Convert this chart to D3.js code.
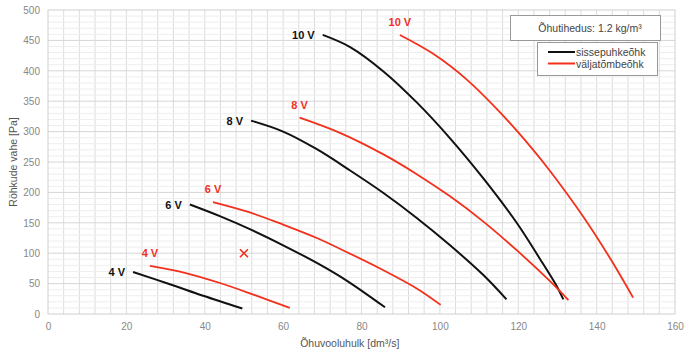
<!DOCTYPE html>
<html>
<head>
<meta charset="utf-8">
<script src="https://cdn.jsdelivr.net/npm/d3@7"></script>
<style>
  body { margin: 0; background: #fff; }
  svg { display: block; font-family: "Liberation Sans", Arial, sans-serif; }
</style>
</head>
<body>
<div id="chart"></div>
<script>
// fan curves, [airflow dm3/s, pressure Pa]
const supply4 = [[21.7, 69], [31.1, 49], [39.6, 30], [49.6, 9]];
const supply6 = [[36.2, 180], [44, 160.5], [51.5, 139.5], [60, 113], [68.6, 84], [76.2, 55], [86, 11]];
const supply8 = [[51.8, 318], [60, 300], [68.6, 271], [77.1, 236], [85.6, 199], [94.1, 158], [102.6, 113], [111.1, 64], [117, 24]];
const supply10 = [[70.1, 459], [77.1, 439], [85.6, 399], [94.1, 348], [102.6, 289], [111.1, 223], [119.6, 150], [125.5, 91], [129.8, 46], [131.5, 24]];

const exhaust4 = [[26, 79], [35.4, 67], [43.9, 51], [52.4, 32], [61.7, 10]];
const exhaust6 = [[42.1, 184], [51.5, 167], [60, 147], [68.6, 125], [76.2, 102], [85.6, 72], [94.1, 42], [100.2, 15]];
const exhaust8 = [[64.2, 323], [74.5, 298], [85.6, 262.5], [94.1, 230], [102.6, 193.5], [111.1, 152], [119.6, 105], [128.1, 54], [132.8, 23]];
const exhaust10 = [[89.8, 459], [98.3, 428], [106.8, 386], [115.3, 332], [123.8, 270], [128.5, 232], [136.6, 160], [143.4, 92], [149.3, 27]];

const voltages = ["4 V", "6 V", "8 V", "10 V"];
const supplyCurves = [supply4, supply6, supply8, supply10];
const exhaustCurves = [exhaust4, exhaust6, exhaust8, exhaust10];

const xTicks = [0, 20, 40, 60, 80, 100, 120, 140, 160];
const yTicks = [0, 50, 100, 150, 200, 250, 300, 350, 400, 450, 500];
const marker = [50, 100];

const legendNames = ["sissepuhkeõhk", "väljatõmbeõhk"];
const densityText = "Õhutihedus:  1.2 kg/m³";
const xTitle = "Õhuvooluhulk [dm³/s]";
const yTitle = "Röhkude vahe [Pa]";

const width = 685, height = 359;
const margin = {top: 10, right: 10, bottom: 45, left: 48};
const black = "#111", red = "#f2301c";

const svg = d3.select("#chart").append("svg")
    .attr("width", width)
    .attr("height", height);

const x = d3.scaleLinear().domain([0, 160]).range([margin.left, width - margin.right]);
const y = d3.scaleLinear().domain([0, 500]).range([height - margin.bottom, margin.top]);

// grid
const grid = svg.append("g");
grid.selectAll(".vmin")
    .data(d3.range(4, 160, 4))
    .enter().append("line")
    .attr("x1", d => x(d)).attr("x2", d => x(d))
    .attr("y1", y(0)).attr("y2", y(500))
    .attr("stroke", "#dcdcdc").attr("stroke-width", 1);
grid.selectAll(".hmin")
    .data(d3.range(10, 500, 10).filter(d => d % 50 !== 0))
    .enter().append("line")
    .attr("x1", x(0)).attr("x2", x(160))
    .attr("y1", d => y(d)).attr("y2", d => y(d))
    .attr("stroke", "#eeeeee").attr("stroke-width", 1);
grid.selectAll(".hmaj")
    .data(yTicks.slice(1, -1))
    .enter().append("line")
    .attr("x1", x(0)).attr("x2", x(160))
    .attr("y1", d => y(d)).attr("y2", d => y(d))
    .attr("stroke", "#d6d6d6").attr("stroke-width", 1);
svg.append("rect")
    .attr("x", x(0)).attr("y", y(500))
    .attr("width", x(160) - x(0)).attr("height", y(0) - y(500))
    .attr("fill", "none").attr("stroke", "#cfcfcf");

// axes
const xAxis = svg.append("g")
    .attr("transform", `translate(0,${y(0)})`)
    .call(d3.axisBottom(x).tickValues(xTicks).tickSize(0).tickPadding(9));
const yAxis = svg.append("g")
    .attr("transform", `translate(${x(0)},0)`)
    .call(d3.axisLeft(y).tickValues(yTicks).tickSize(0).tickPadding(8));
[xAxis, yAxis].forEach(a => {
    a.select(".domain").remove();
    a.selectAll("text").attr("fill", "#888").style("font-size", "10px")
        .style("font-family", "'Liberation Sans', Arial, sans-serif");
});

svg.append("text")
    .attr("x", x(77))
    .attr("y", 347)
    .attr("text-anchor", "middle")
    .style("font-size", "10.5px")
    .attr("fill", "#555")
    .text(xTitle);
svg.append("text")
    .attr("transform", `translate(17,${y(250)}) rotate(-90)`)
    .attr("text-anchor", "middle")
    .style("font-size", "10.5px")
    .attr("fill", "#555")
    .text(yTitle);

// curves
const line = d3.line()
    .x(d => x(d[0]))
    .y(d => y(d[1]))
    .curve(d3.curveCatmullRom.alpha(0.5));

svg.selectAll(".supply")
    .data(supplyCurves)
    .enter().append("path")
    .attr("d", line)
    .attr("fill", "none")
    .attr("stroke", black)
    .attr("stroke-width", 2);
svg.selectAll(".exhaust")
    .data(exhaustCurves)
    .enter().append("path")
    .attr("d", line)
    .attr("fill", "none")
    .attr("stroke", red)
    .attr("stroke-width", 1.8);

// curve labels
svg.selectAll(".slabel")
    .data(supplyCurves)
    .enter().append("text")
    .attr("x", d => x(d[0][0]) - 8)
    .attr("y", d => y(d[0][1]) + 4)
    .attr("text-anchor", "end")
    .style("font-size", "11px")
    .style("font-weight", "bold")
    .attr("fill", black)
    .text((d, i) => voltages[i]);
svg.selectAll(".elabel")
    .data(exhaustCurves)
    .enter().append("text")
    .attr("x", d => x(d[0][0]))
    .attr("y", d => y(d[0][1]) - 9)
    .attr("text-anchor", "middle")
    .style("font-size", "11px")
    .style("font-weight", "bold")
    .attr("fill", red)
    .text((d, i) => voltages[i]);

// operating point marker
const mx = x(marker[0]), my = y(marker[1]), s = 4;
svg.append("path")
    .attr("d", `M${mx - s},${my - s}L${mx + s},${my + s}M${mx + s},${my - s}L${mx - s},${my + s}`)
    .attr("stroke", red)
    .attr("stroke-width", 1.6);

// density box
svg.append("rect")
    .attr("x", 510.5).attr("y", 15.5)
    .attr("width", 150).attr("height", 25)
    .attr("fill", "#fff").attr("stroke", "#999");
svg.append("text")
    .attr("x", 590).attr("y", 32)
    .attr("text-anchor", "middle")
    .style("font-size", "10.5px")
    .attr("fill", "#444")
    .text(densityText);

// legend box
svg.append("rect")
    .attr("x", 537.5).attr("y", 42.5)
    .attr("width", 120).attr("height", 33)
    .attr("fill", "#fff").attr("stroke", "#999");
const legend = svg.selectAll(".leg")
    .data(legendNames)
    .enter().append("g")
    .attr("transform", (d, i) => `translate(548,${52 + i * 11.5})`);
legend.append("line")
    .attr("x1", 0).attr("x2", 27)
    .attr("stroke", (d, i) => i === 0 ? black : red)
    .attr("stroke-width", 2);
legend.append("text")
    .attr("x", 28).attr("y", 4)
    .style("font-size", "10.5px")
    .attr("fill", "#444")
    .text(d => d);
</script>
</body>
</html>
